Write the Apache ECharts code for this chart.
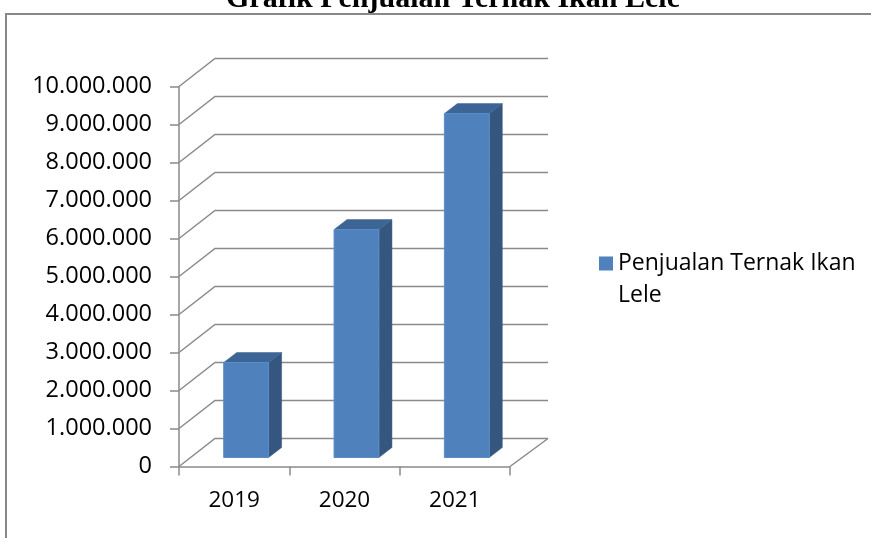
<!DOCTYPE html>
<html><head><meta charset="utf-8">
<script src="https://cdn.jsdelivr.net/npm/echarts@6/dist/echarts.min.js"></script>
<style>html,body{margin:0;padding:0;background:#fff}#c{width:871px;height:538px}</style>
</head><body><div id="c"></div>
<script>
// ---- data ----
const titleText = 'Grafik Penjualan Ternak Ikan Lele';
const categories = ['2019', '2020', '2021'];
const seriesName = 'Penjualan Ternak Ikan Lele';
const values = [2500000, 6000000, 9050000];
const yTicks = [0, 1000000, 2000000, 3000000, 4000000, 5000000, 6000000, 7000000, 8000000, 9000000, 10000000];

// ---- style constants ----
const WALL_DX = 36, WALL_DY = -28, WALL_DX_R = 38;
const BAR_SHIFT_X = 12, BAR_SHIFT_Y = -9;
const BAR_DX = 13, BAR_DY = -10;
const LINE_COLOR = '#8a8a8a';
const fmt = v => String(v).replace(/\B(?=(\d{3})+(?!\d))/g, '.');

function renderWall(params, api) {
  const cs = params.coordSys;
  const v = api.value(1);
  const y = api.coord([0, v])[1];
  const x0 = cs.x, x1 = cs.x + cs.width;
  const st = { stroke: LINE_COLOR, lineWidth: 1.5, fill: null };
  const children = [{
    type: 'polyline',
    shape: { points: [[x0, y], [x0 + WALL_DX, y + WALL_DY], [x1 + WALL_DX_R, y + WALL_DY]] },
    style: st
  }];
  if (v === yTicks[0]) {
    children.push({ type: 'line', shape: { x1: x1, y1: y, x2: x1 + WALL_DX_R, y2: y + WALL_DY }, style: st });
  }
  return { type: 'group', children };
}

function renderBar(params, api) {
  const i = api.value(0), v = api.value(1);
  const base = api.coord([i, 0]);
  const top = api.coord([i, v]);
  const band = api.size([1, 0])[0];
  const hw = band * 0.2035;
  const cx = base[0] + BAR_SHIFT_X;
  const yb = base[1] + BAR_SHIFT_Y, yt = top[1] + BAR_SHIFT_Y;
  const xl = cx - hw, xr = cx + hw;
  return {
    type: 'group',
    children: [
      { type: 'polygon', shape: { points: [[xr, yt], [xr + BAR_DX, yt + BAR_DY], [xr + BAR_DX, yb + BAR_DY], [xr, yb]] },
        style: { fill: '#34567f', stroke: '#34567f', lineWidth: 0.5 } },
      { type: 'polygon', shape: { points: [[xl, yt], [xl + BAR_DX, yt + BAR_DY], [xr + BAR_DX, yt + BAR_DY], [xr, yt]] },
        style: { fill: '#3c6596', stroke: '#3c6596', lineWidth: 0.5 } },
      { type: 'rect', shape: { x: xl, y: yt, width: xr - xl, height: yb - yt },
        style: { fill: '#4f81bd', stroke: '#5b8cc8', lineWidth: 1 } }
    ]
  };
}

const chart = echarts.init(document.getElementById('c'), null, { renderer: 'canvas' });
chart.setOption({
  animation: false,
  backgroundColor: '#fff',
  title: {
    text: titleText, left: 226, top: -16, padding: 0,
    textStyle: { fontFamily: 'Liberation Serif', fontWeight: 'bold', fontSize: 30, color: '#000' }
  },
  graphic: [{
    type: 'rect', z: -1, silent: true,
    shape: { x: 6, y: 14, width: 1000, height: 1000 },
    style: { fill: null, stroke: '#888', lineWidth: 2 }
  }],
  legend: {
    left: 599, top: 215.5, padding: 0, orient: 'vertical',
    itemWidth: 14, itemHeight: 14,
    data: [{ name: seriesName, icon: 'rect', itemStyle: { color: '#4f81bd' } }],
    formatter: name => '\n' + name,
    textStyle: { fontFamily: 'Open Sans', fontSize: 23, color: '#000', lineHeight: 32,
      width: 245, overflow: 'break' }
  },
  grid: { left: 179, top: 86.5, width: 331, height: 380 },
  xAxis: {
    type: 'category', data: categories, boundaryGap: true,
    axisLine: { lineStyle: { color: LINE_COLOR, width: 1.5 } },
    axisTick: { show: true, length: 9, lineStyle: { color: LINE_COLOR, width: 1.5 } },
    axisLabel: { fontFamily: 'Open Sans', fontSize: 22.5, color: '#000', margin: 23 },
    splitLine: { show: false }
  },
  yAxis: {
    type: 'value', min: 0, max: 10000000, interval: 1000000,
    axisLine: { show: true, lineStyle: { color: LINE_COLOR, width: 1.5 } },
    axisTick: { show: true, length: 9, lineStyle: { color: LINE_COLOR, width: 1.5 } },
    axisLabel: { fontFamily: 'Open Sans', fontSize: 23.5, color: '#000', margin: 27, formatter: fmt },
    splitLine: { show: false }
  },
  series: [
    { type: 'custom', name: '_wall', silent: true, renderItem: renderWall, clip: false,
      data: yTicks.map(v => [0, v]), z: 1 },
    { type: 'custom', name: seriesName, renderItem: renderBar, clip: false,
      itemStyle: { color: '#4f81bd' },
      data: values.map((v, i) => [i, v]), z: 2 }
  ]
});
</script></body></html>
